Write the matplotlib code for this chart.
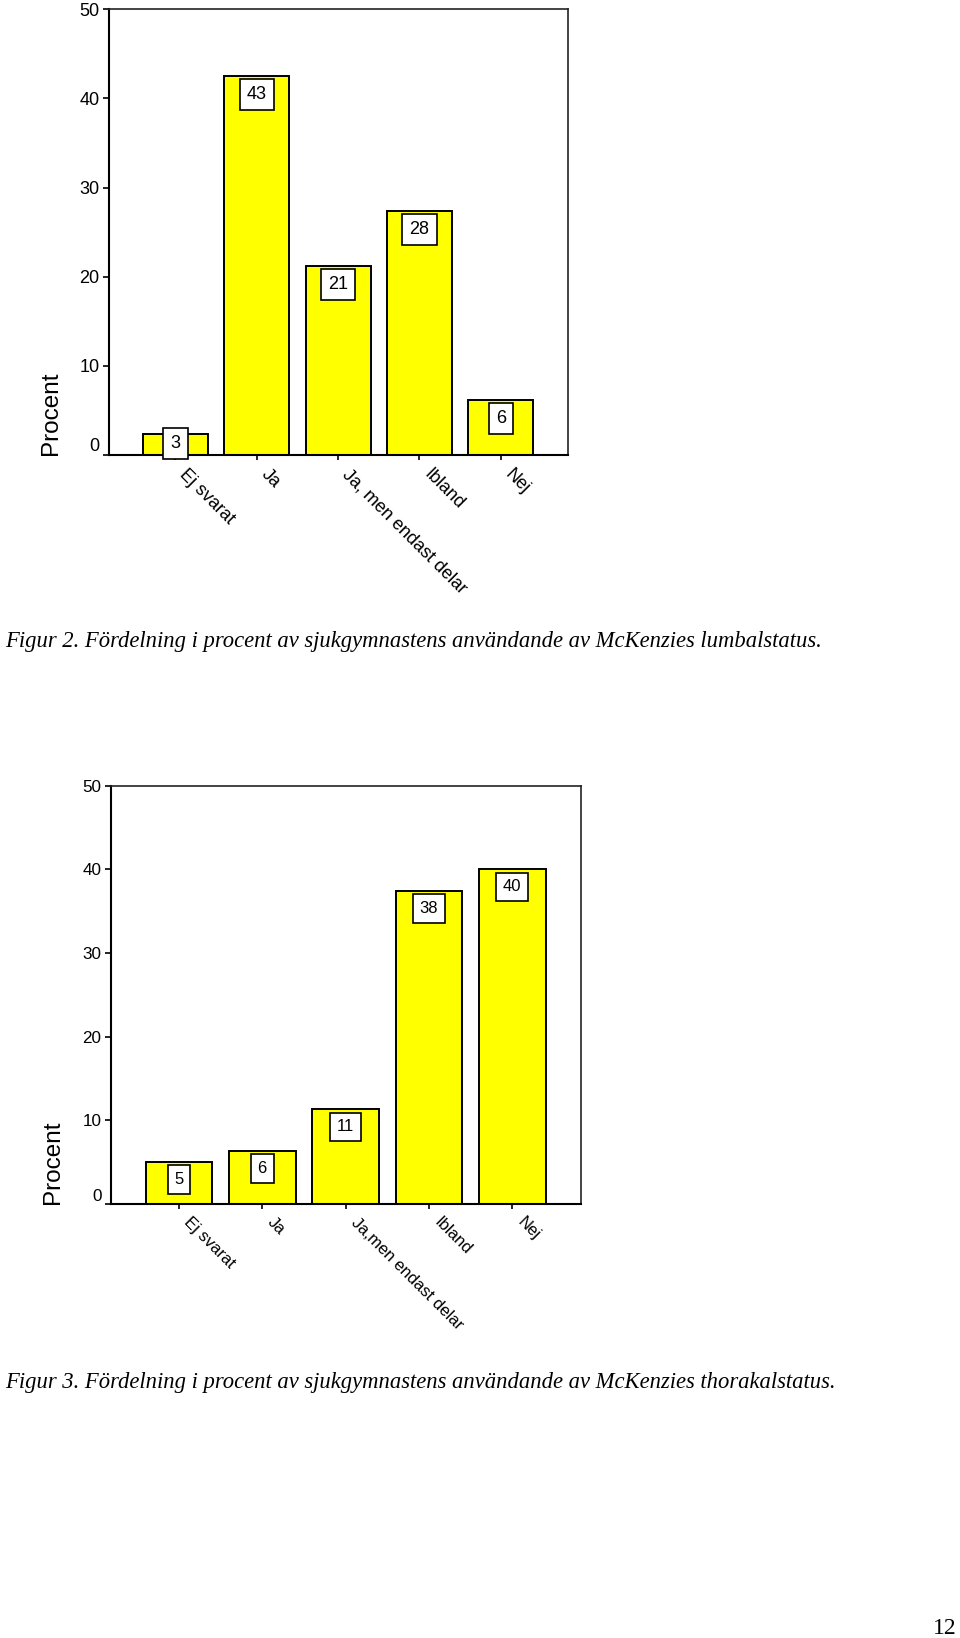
import matplotlib.pyplot as plt
import matplotlib.transforms as mtransforms

plt.rcParams['font.family'] = ['Liberation Sans', 'DejaVu Sans']

# Figur 2 - lumbalstatus
kategorier_lumbal = ['Ej svarat', 'Ja', 'Ja, men endast delar', 'Ibland', 'Nej']
procent_lumbal = [2.4, 42.5, 21.2, 27.4, 6.2]
etiketter_lumbal = ['3', '43', '21', '28', '6']

# Figur 3 - thorakalstatus
kategorier_thorakal = ['Ej svarat', 'Ja', 'Ja,men endast delar', 'Ibland', 'Nej']
procent_thorakal = [5.0, 6.3, 11.3, 37.4, 40.0]
etiketter_thorakal = ['5', '6', '11', '38', '40']

y_ticks = [0, 10, 20, 30, 40, 50]

caption_lumbal = ('Figur 2. Fördelning i procent av sjukgymnastens användande '
                  'av McKenzies lumbalstatus.')
caption_thorakal = ('Figur 3. Fördelning i procent av sjukgymnastens användande '
                    'av McKenzies thorakalstatus.')


def bar_chart(fig, ax, categories, values, labels, fs_tick, fs_cat, fs_val,
              fs_ylab, ylab_pad):
    x = list(range(len(categories)))
    ax.bar(x, values, width=0.8, color='#ffff00', edgecolor='black',
           linewidth=1.4, zorder=2)

    # value boxes just under the top of each bar (kept above the axis for tiny bars)
    for xi, v, lab in zip(x, values, labels):
        ax.annotate(lab, (xi, max(v, 3.35)), xytext=(0, -10),
                    textcoords='offset pixels', ha='center', va='top',
                    fontsize=fs_val, zorder=3, annotation_clip=False,
                    bbox=dict(boxstyle='square,pad=0.4', fc='white',
                              ec='black', lw=1.2))

    ax.set_xlim(-0.82, 4.82)
    ax.set_ylim(0, 50)
    ax.set_yticks(y_ticks)
    ax.set_yticklabels([str(t) for t in y_ticks], fontsize=fs_tick)
    ax.set_xticks(x)
    ax.set_xticklabels(categories, rotation=-45, ha='left', va='top',
                       rotation_mode='anchor', fontsize=fs_cat)
    ax.tick_params(axis='y', direction='out', length=4.5, width=1.2, pad=2)
    ax.tick_params(axis='x', direction='out', length=3.6, width=1.2, pad=1.5)
    ax.get_yticklabels()[0].set_va('bottom')

    # nudge the slanted category names to the right of their ticks
    shift = mtransforms.ScaledTranslation(0.13, -0.04, fig.dpi_scale_trans)
    for lab in ax.get_xticklabels():
        lab.set_transform(lab.get_transform() + shift)

    for side in ('left', 'bottom'):
        ax.spines[side].set_linewidth(1.5)
        ax.spines[side].set_color('black')
    for side in ('top', 'right'):
        ax.spines[side].set_linewidth(1.2)
        ax.spines[side].set_color('#222222')

    ax.set_ylabel('Procent', loc='bottom', fontsize=fs_ylab, labelpad=ylab_pad)


fig = plt.figure(figsize=(9.6, 16.38), dpi=100)

ax1 = fig.add_axes([108.7 / 960, 1 - 455 / 1638, 458.8 / 960, 445.7 / 1638])
bar_chart(fig, ax1, kategorier_lumbal, procent_lumbal, etiketter_lumbal,
          13, 13, 13, 17.5, 12.5)

ax2 = fig.add_axes([110.5 / 960, 1 - 1203.8 / 1638, 470.2 / 960, 418.1 / 1638])
bar_chart(fig, ax2, kategorier_thorakal, procent_thorakal, etiketter_thorakal,
          12.3, 12, 12, 17.5, 13.5)

serif = dict(family=['Liberation Serif', 'DejaVu Serif'], style='italic',
             fontsize=16.25, va='baseline')
fig.text(5 / 960, 1 - 647 / 1638, caption_lumbal, **serif)
fig.text(5 / 960, 1 - 1388 / 1638, caption_thorakal, **serif)

fig.text(957 / 960, 1 - 1634 / 1638, '12', ha='right', va='baseline',
         family=['Liberation Serif', 'DejaVu Serif'], fontsize=17)

fig.savefig('out.png', dpi=100)
